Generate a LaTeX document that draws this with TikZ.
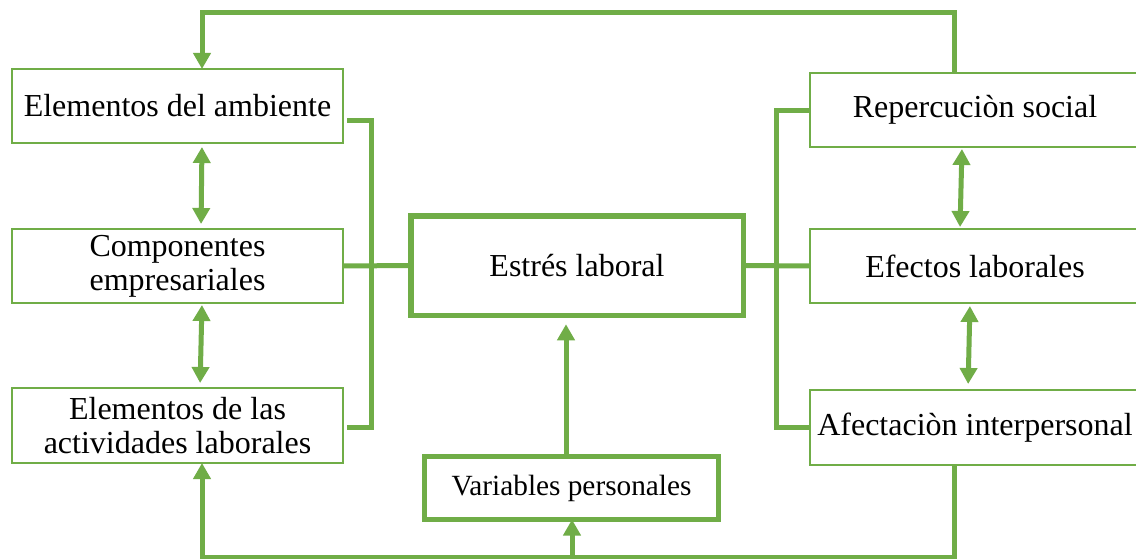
\documentclass[tikz,border=0pt]{standalone}
\usepackage{fontspec}
\setmainfont{Liberation Serif}
\usetikzlibrary{arrows.meta,calc}
\definecolor{leaf}{RGB}{112,173,71}
\tikzset{
  thinbox/.style={draw=leaf, line width=2pt, fill=white, rectangle, inner sep=0pt, outer sep=0pt,
    align=center, text=black, font=\fontsize{32}{34}\selectfont},
  thickbox/.style={draw=leaf, line width=5.5pt, fill=white, rectangle, inner sep=0pt, outer sep=0pt,
    align=center, text=black},
  conn/.style={draw=leaf, line width=5pt},
  flow/.style={conn, -{Triangle[width=17pt,length=16pt]}},
  dflow/.style={conn, {Triangle[width=17pt,length=16pt]}-{Triangle[width=17pt,length=16pt]}},
}
\begin{document}
\begin{tikzpicture}[x=1pt, y=-1pt]
\path[use as bounding box, clip] (0,0) rectangle (1136,559);
\fill[white] (0,0) rectangle (1136,559);

% left column
\node[thinbox, minimum width=331pt, minimum height=74pt] (amb) at (177.5,106) {Elementos del ambiente};
\node[thinbox, minimum width=331pt, minimum height=74pt] (com) at (177.5,266) {Componentes\\empresariales};
\node[thinbox, minimum width=331pt, minimum height=75pt] (act) at (177.5,425.5) {Elementos de las\\actividades laborales};

% centre
\node[thickbox, minimum width=332.5pt, minimum height=99.5pt, font=\fontsize{32}{34}\selectfont] (es) at (577,265.5) {Estrés laboral};
\node[thickbox, line width=5pt, minimum width=294pt, minimum height=63pt, font=\fontsize{29.3}{32}\selectfont] (vp) at (571.5,488) {Variables personales};

% right column
\node[thinbox, minimum width=330pt, minimum height=74pt] (rep) at (975,110) {Repercuciòn social};
\node[thinbox, minimum width=330pt, minimum height=74pt] (efe) at (975,266) {Efectos laborales};
\node[thinbox, minimum width=330pt, minimum height=75pt] (afe) at (975,427.5) {Afectaciòn interpersonal};

% corner points of the outer loops and brackets
\coordinate (topR) at (954,13);
\coordinate (topL) at (202,13);
\coordinate (botR) at (954,557);
\coordinate (botL) at (202,557);
\coordinate (botM) at (572,557);
\coordinate (lbT) at (371,121);
\coordinate (lbB) at (371,427);
\coordinate (rbT) at (776,111);
\coordinate (rbB) at (776,427);

% feedback loops
\draw[flow] (rep.north -| topR) -- (topR) -- (topL) -- (amb.north -| topL);
\draw[flow] (afe.south -| botR) -- (botR) -- (botL) -- (act.south -| botL);
\draw[flow] (botM) -- (vp.south -| botM);

% brackets joining each column to the centre
\draw[conn] ($(amb.east |- lbT)+(4,0)$) -- (lbT) -- (lbB) -- ($(act.east |- lbB)+(4,0)$);
\draw[conn] (com.east) -- (es.west);
\draw[conn] (rep.west |- rbT) -- (rbT) -- (rbB) -- (afe.west |- rbB);
\draw[conn] (es.east) -- (efe.west);

% personal variables feed the stress box
\draw[flow, shorten >=9pt] (vp.north -| 566,0) -- (es.south -| 566,0);

% two-way links within each column
\draw[dflow, shorten <=4pt, shorten >=5pt] (amb.south -| 202,0) -- (com.north -| 201,0);
\draw[dflow, shorten <=2pt, shorten >=5pt] (com.south -| 202,0) -- (act.north -| 200,0);
\draw[dflow, shorten <=2pt, shorten >=2pt] (rep.south -| 962,0) -- (efe.north -| 960,0);
\draw[dflow, shorten <=3pt, shorten >=6pt] (efe.south -| 970,0) -- (afe.north -| 968,0);
\end{tikzpicture}
\end{document}
